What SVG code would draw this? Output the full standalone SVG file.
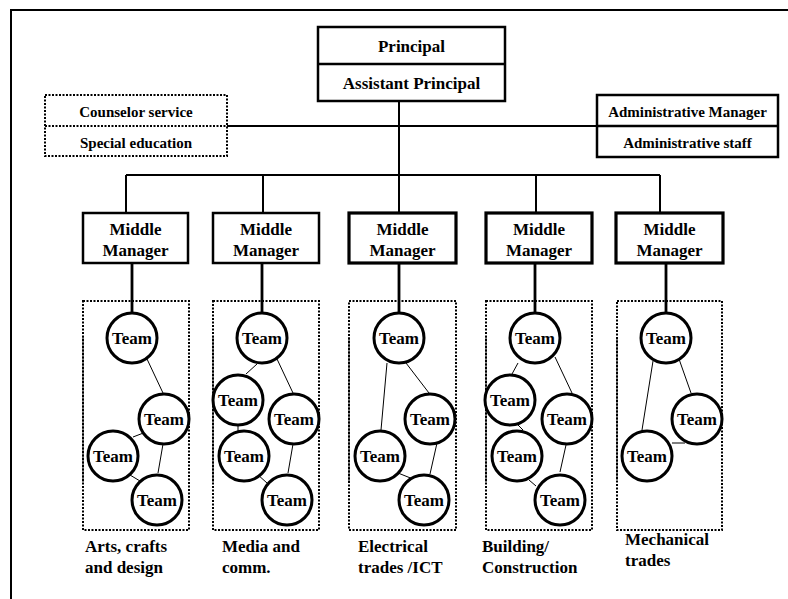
<svg xmlns="http://www.w3.org/2000/svg" width="788" height="599" viewBox="0 0 788 599" font-family="'Liberation Serif', 'Times New Roman', 'DejaVu Serif', serif" font-weight="bold">
<style>
text{font-family:'Liberation Serif','Times New Roman','DejaVu Serif',serif;font-weight:700;fill:#000}
.c{text-anchor:middle}
.t17{font-size:17px}
.t15{font-size:15px}
.box{fill:#fff;stroke:#000;stroke-width:2.5}
.mm{fill:#fff;stroke:#000;stroke-width:2.5}
.mm3{fill:#fff;stroke:#000;stroke-width:3.2}
.dot{fill:none;stroke:#000;stroke-width:2;stroke-dasharray:2 1.5}
.line{fill:none;stroke:#000;stroke-width:2}
.thick{fill:none;stroke:#000;stroke-width:2.8}
.thin{fill:none;stroke:#000;stroke-width:1}
.team{fill:#fff;stroke:#000;stroke-width:3}
</style>
<rect width="788" height="599" fill="#fff"/>
<path d="M11,599 V10 H788" class="line"/>

<g id="connectors">
<path class="line" d="M399,101 V175 M227,126 H597 M126,175 H660 M126,175 V213 M263,175 V213 M536,175 V213 M660,175 V213 M399,175 V213"/>
<path class="thick" d="M132,263 V313 M262,263 V313 M399,263 V313 M535,263 V313 M666,263 V313"/>
<path class="thin" d="M83,337 V482 M213,337 V482 M349,337 V482 M486,337 V482 M617,337 V480"/>
<path class="thin" d="M147,359 L163,393 M133,437 L146,432 M163,444 L158,473 M130,475 L140,481"/>
<path class="thin" d="M257,364 L246,374 M277,359 L293,393 M238,425 L238,431 M293,444 L288,473 M257,474 L267,483"/>
<path class="thin" d="M387,363 L381,430 M406,363 L429,393 M437,443 L430,474 M398,473 L418,481"/>
<path class="thin" d="M518,363 L512,374 M555,357 L572,393 M518,425 L523,430 M566,445 L560,472 M529,480 L536,486"/>
<path class="thin" d="M653,361 L642,430 M679,359 L691,393 M672,443 L685,443"/>
</g>

<g id="principal">
<rect class="box" x="318" y="27" width="187" height="74"/>
<line class="box" x1="318" y1="64" x2="505" y2="64"/>
<text class="c t17" x="411.5" y="52">Principal</text>
<text class="c t17" x="411.5" y="89">Assistant Principal</text>
</g>

<g id="counselor">
<rect class="dot" x="45" y="95" width="182" height="61"/>
<line class="dot" x1="45" y1="126" x2="227" y2="126"/>
<text class="c t15" x="136" y="117">Counselor service</text>
<text class="c t15" x="136" y="148">Special education</text>
</g>

<g id="admin">
<rect class="box" x="597" y="95" width="181" height="62"/>
<line class="box" x1="597" y1="126" x2="778" y2="126"/>
<text class="c t15" x="687.5" y="117">Administrative Manager</text>
<text class="c t15" x="687.5" y="148">Administrative staff</text>
</g>

<g id="mm1">
<rect class="mm" x="83" y="213" width="105" height="50"/>
<text class="c t17" x="135.5" y="235">Middle</text>
<text class="c t17" x="135.5" y="256">Manager</text>
</g>
<g id="mm2">
<rect class="mm" x="213" y="213" width="106" height="50"/>
<text class="c t17" x="266" y="235">Middle</text>
<text class="c t17" x="266" y="256">Manager</text>
</g>
<g id="mm3">
<rect class="mm3" x="349" y="213" width="107" height="50"/>
<text class="c t17" x="402.5" y="235">Middle</text>
<text class="c t17" x="402.5" y="256">Manager</text>
</g>
<g id="mm4">
<rect class="mm3" x="486" y="213" width="106" height="50"/>
<text class="c t17" x="539" y="235">Middle</text>
<text class="c t17" x="539" y="256">Manager</text>
</g>
<g id="mm5">
<rect class="mm3" x="616" y="213" width="107" height="50"/>
<text class="c t17" x="669.5" y="235">Middle</text>
<text class="c t17" x="669.5" y="256">Manager</text>
</g>

<g id="group1">
<rect class="dot" x="83" y="301" width="106" height="229"/>
<circle class="team" cx="132" cy="338" r="25"/><text class="c t17" x="132" y="344">Team</text>
<circle class="team" cx="164" cy="419" r="25"/><text class="c t17" x="164" y="425">Team</text>
<circle class="team" cx="113" cy="456" r="25"/><text class="c t17" x="113" y="462">Team</text>
<circle class="team" cx="157" cy="500" r="25"/><text class="c t17" x="157" y="506">Team</text>
<text class="t17" x="85" y="552">Arts, crafts</text>
<text class="t17" x="85" y="573">and design</text>
</g>

<g id="group2">
<rect class="dot" x="213" y="301" width="106" height="229"/>
<circle class="team" cx="262" cy="338" r="25"/><text class="c t17" x="262" y="344">Team</text>
<circle class="team" cx="238" cy="400" r="25"/><text class="c t17" x="238" y="406">Team</text>
<circle class="team" cx="294" cy="419" r="25"/><text class="c t17" x="294" y="425">Team</text>
<circle class="team" cx="244" cy="456" r="25"/><text class="c t17" x="244" y="462">Team</text>
<circle class="team" cx="287" cy="500" r="25"/><text class="c t17" x="287" y="506">Team</text>
<text class="t17" x="222" y="552">Media and</text>
<text class="t17" x="222" y="573">comm.</text>
</g>

<g id="group3">
<rect class="dot" x="349" y="301" width="107" height="229"/>
<circle class="team" cx="399" cy="338" r="25"/><text class="c t17" x="399" y="344">Team</text>
<circle class="team" cx="430" cy="419" r="25"/><text class="c t17" x="430" y="425">Team</text>
<circle class="team" cx="380" cy="456" r="25"/><text class="c t17" x="380" y="462">Team</text>
<circle class="team" cx="424" cy="500" r="25"/><text class="c t17" x="424" y="506">Team</text>
<text class="t17" x="358" y="552">Electrical</text>
<text class="t17" x="358" y="573">trades /ICT</text>
</g>

<g id="group4">
<rect class="dot" x="486" y="301" width="106" height="229"/>
<circle class="team" cx="535" cy="338" r="25"/><text class="c t17" x="535" y="344">Team</text>
<circle class="team" cx="510" cy="400" r="25"/><text class="c t17" x="510" y="406">Team</text>
<circle class="team" cx="567" cy="419" r="25"/><text class="c t17" x="567" y="425">Team</text>
<circle class="team" cx="517" cy="456" r="25"/><text class="c t17" x="517" y="462">Team</text>
<circle class="team" cx="560" cy="500" r="25"/><text class="c t17" x="560" y="506">Team</text>
<text class="t17" x="482" y="552">Building/</text>
<text class="t17" x="482" y="573">Construction</text>
</g>

<g id="group5">
<rect class="dot" x="617" y="301" width="105" height="229"/>
<circle class="team" cx="666" cy="338" r="25"/><text class="c t17" x="666" y="344">Team</text>
<circle class="team" cx="697" cy="419" r="25"/><text class="c t17" x="697" y="425">Team</text>
<circle class="team" cx="647" cy="456" r="25"/><text class="c t17" x="647" y="462">Team</text>
<text class="t17" x="625" y="545">Mechanical</text>
<text class="t17" x="625" y="566">trades</text>
</g>
</svg>
